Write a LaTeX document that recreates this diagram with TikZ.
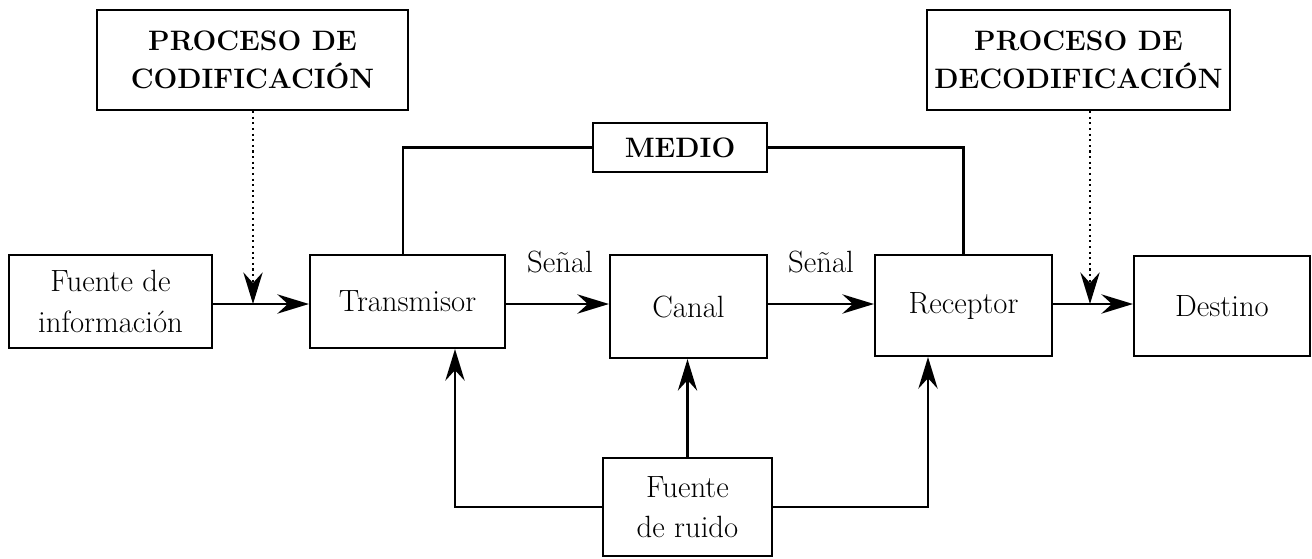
\documentclass[tikz,border=0pt]{standalone}
\usetikzlibrary{arrows.meta}
\begin{document}
\begin{tikzpicture}[x=0.02cm,y=-0.02cm,line width=1.2pt,
    bloque/.style={draw,rectangle,align=center,inner sep=0pt,font=\fontsize{17.5}{23}\selectfont},
    proceso/.style={bloque,font=\fontsize{16}{22}\selectfont\bfseries},
    flecha/.style={-{Stealth[length=18pt,width=11pt,inset=6pt]}}]
                \useasboundingbox (0,0) rectangle (1312,558);
                % bloques principales
                \node[bloque,minimum width=203*0.02cm,minimum height=93*0.02cm] (fuente) at (110.5,301.5) {Fuente de\\informaci\'on};
                \node[bloque,minimum width=195*0.02cm,minimum height=93*0.02cm] (trans) at (407.5,301.5) {Transmisor};
                \node[bloque,minimum width=157*0.02cm,minimum height=103*0.02cm] (canal) at (688.5,306.5) {Canal};
                \node[bloque,minimum width=177*0.02cm,minimum height=101*0.02cm] (recep) at (963.5,305.5) {Receptor};
                \node[bloque,minimum width=176*0.02cm,minimum height=100*0.02cm] (destino) at (1222,306) {Destino};
                \node[bloque,minimum width=169*0.02cm,minimum height=98*0.02cm] (ruido) at (687.5,507) {Fuente\\de ruido};
                \node[proceso,minimum width=174*0.02cm,minimum height=49*0.02cm] (medio) at (680,147.5) {MEDIO};
                \node[proceso,minimum width=311*0.02cm,minimum height=100*0.02cm] (codif) at (252.5,60) {PROCESO DE\\CODIFICACI\'ON};
                \node[proceso,minimum width=303*0.02cm,minimum height=100*0.02cm] (decodif) at (1078.5,60) {PROCESO DE\\DECODIFICACI\'ON};
                % puntos auxiliares
                \coordinate (eje) at (0,304);
                \coordinate (cod) at (253,304);
                \coordinate (dec) at (1090,304);
                \coordinate (m1) at (403,0);
                \coordinate (r1) at (455,507);
                \coordinate (r2) at (928,507);
                % cadena de la senal
                \draw[flecha] (fuente.east |- eje) -- (trans.west |- eje);
                \draw[flecha] (trans.east |- eje) -- (canal.west |- eje);
                \draw[flecha] (canal.east |- eje) -- (recep.west |- eje);
                \draw[flecha] (recep.east |- eje) -- (destino.west |- eje);
                \node[font=\fontsize{17.5}{23}\selectfont] (senal1) at (560,262) {Se\~nal};
                \node[font=\fontsize{17.5}{23}\selectfont] (senal2) at (821,262) {Se\~nal};
                % codificacion y decodificacion
                \draw[flecha,dotted] (codif.south -| cod) -- (cod);
                \draw[flecha,dotted] (decodif.south -| dec) -- (dec);
                % medio
                \draw (medio.west) -| (trans.north -| m1);
                \draw (medio.east) -| (recep.north);
                % ruido
                \draw[flecha] (ruido.west) -- (r1) -- (r1 |- trans.south);
                \draw[flecha] (ruido.north) -- (ruido.north |- canal.south);
                \draw[flecha] (ruido.east) -- (r2) -- (r2 |- recep.south);
            \end{tikzpicture}
\end{document}
